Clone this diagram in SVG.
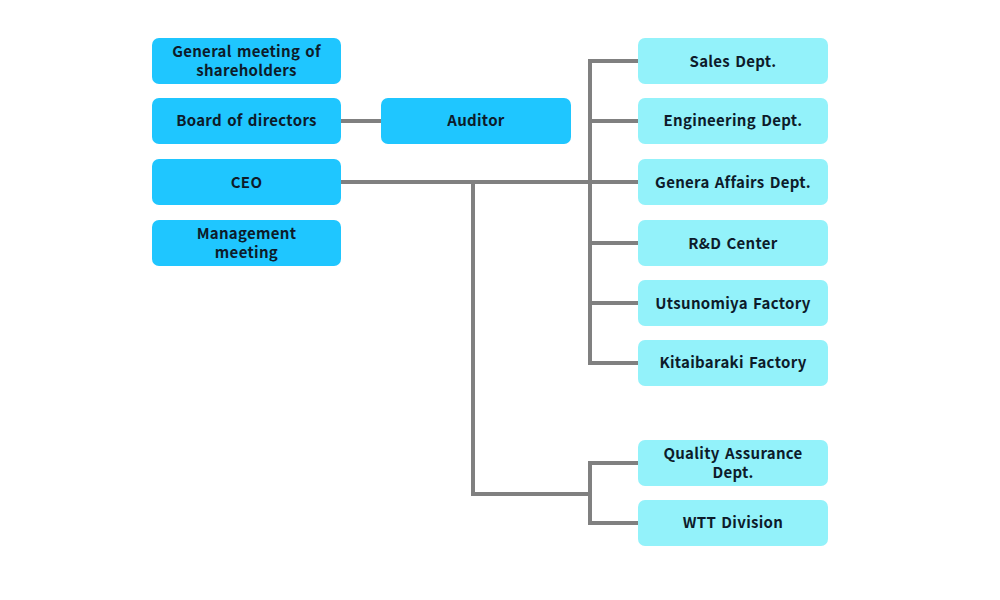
<svg xmlns="http://www.w3.org/2000/svg" width="1000" height="600" viewBox="0 0 1000 600">
<style>
.a{fill:#1fc6ff}
.b{fill:#93f2fa}
text{font-family:"Noto Sans CJK JP","Noto Sans",sans-serif;font-weight:bold;font-size:15px;letter-spacing:0.3px;word-spacing:1.5px;fill:#0d1b2a;text-anchor:middle;dominant-baseline:central}
.c{fill:none;stroke:#808080;stroke-width:4}
</style>
<rect width="1000" height="600" fill="#fff"/>
<g id="connectors">
<path class="c" d="M341,121H381"/>
<path class="c" d="M341,182H638"/>
<path class="c" d="M638,61H590V363H638M590,121H638M590,243H638M590,303H638"/>
<path class="c" d="M473,182V494H590M638,463H590V523H638"/>
</g>
<g id="gm"><rect class="a" x="152" y="38" width="189" height="46" rx="7"/><text x="246.5" y="50">General meeting of</text><text x="246.5" y="69">shareholders</text></g>
<g id="board"><rect class="a" x="152" y="98" width="189" height="46" rx="7"/><text x="246.5" y="119">Board of directors</text></g>
<g id="ceo"><rect class="a" x="152" y="159" width="189" height="46" rx="7"/><text x="246.5" y="181">CEO</text></g>
<g id="mm"><rect class="a" x="152" y="220" width="189" height="46" rx="7"/><text x="246.5" y="232">Management</text><text x="246.5" y="251">meeting</text></g>
<g id="auditor"><rect class="a" x="381" y="98" width="190" height="46" rx="7"/><text x="476" y="119">Auditor</text></g>
<g id="sales"><rect class="b" x="638" y="38" width="190" height="46" rx="7"/><text x="733" y="60">Sales Dept.</text></g>
<g id="eng"><rect class="b" x="638" y="98" width="190" height="46" rx="7"/><text x="733" y="119">Engineering Dept.</text></g>
<g id="ga"><rect class="b" x="638" y="159" width="190" height="46" rx="7"/><text x="733" y="181">Genera Affairs Dept.</text></g>
<g id="rd"><rect class="b" x="638" y="220" width="190" height="46" rx="7"/><text x="733" y="242">R&amp;D Center</text></g>
<g id="utsu"><rect class="b" x="638" y="280" width="190" height="46" rx="7"/><text x="733" y="302">Utsunomiya Factory</text></g>
<g id="kita"><rect class="b" x="638" y="340" width="190" height="46" rx="7"/><text x="733" y="361">Kitaibaraki Factory</text></g>
<g id="qa"><rect class="b" x="638" y="440" width="190" height="46" rx="7"/><text x="733" y="452">Quality Assurance</text><text x="733" y="471">Dept.</text></g>
<g id="wtt"><rect class="b" x="638" y="500" width="190" height="46" rx="7"/><text x="733" y="521">WTT Division</text></g>
</svg>
